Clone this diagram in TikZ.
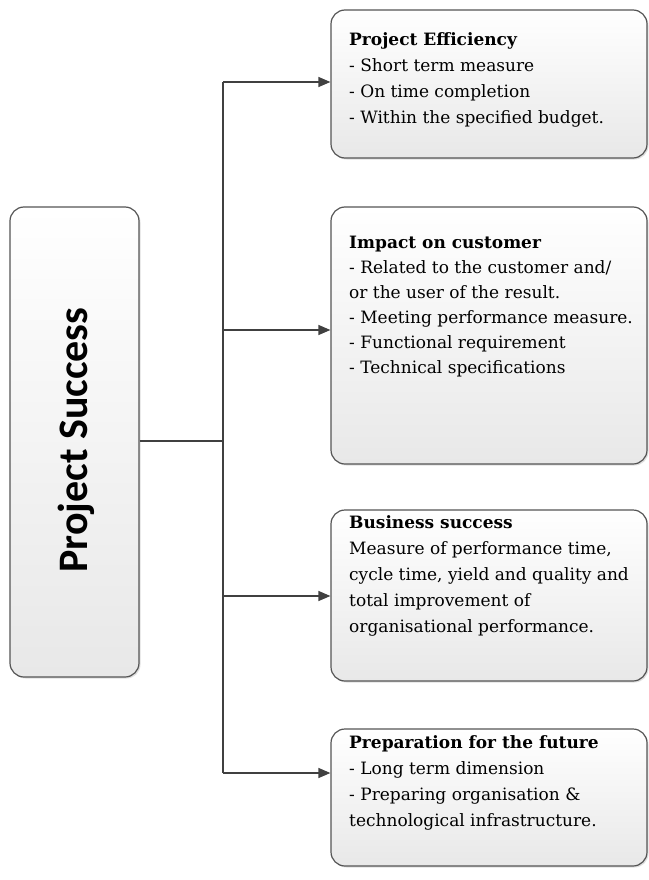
\documentclass[tikz,border=0pt]{standalone}
\usepackage{fontspec}
\setmainfont{DejaVu Serif}
\newfontfamily\psfont{Carlito}
\usetikzlibrary{arrows.meta,shadows}
\definecolor{edgec}{HTML}{555555}
\definecolor{linec}{HTML}{404040}
\definecolor{botc}{HTML}{E8E8E8}
\tikzset{
  boxstyle/.style={draw=edgec, line width=1.2pt, rounded corners=14pt,
    top color=white, bottom color=botc, minimum width=316pt,
    drop shadow={opacity=0.25, shadow xshift=1.5pt, shadow yshift=-1.5pt}},
  txtstyle/.style={anchor=north west, inner sep=0pt, align=left,
    font=\fontsize{17}{26}\selectfont, text=black},
  conn/.style={draw=linec, line width=1.3pt},
  arr/.style={conn, -{Triangle[length=12pt,width=10pt]}}
}
\begin{document}
\begin{tikzpicture}[x=1pt,y=-1pt]
\useasboundingbox (0,0) rectangle (648,880);
\node[boxstyle, minimum width=129pt, minimum height=470pt] (ps) at (74.5,442) {};
\node[rotate=90, inner sep=0pt, font=\psfont\bfseries\fontsize{42}{50}\selectfont] (pst) at (76,440) {Project Success};

\node[boxstyle, minimum height=148pt] (b1) at (489,84) {};
\node[boxstyle, minimum height=257pt] (b2) at (489,335.5) {};
\node[boxstyle, minimum height=171pt] (b3) at (489,595.5) {};
\node[boxstyle, minimum height=137pt] (b4) at (489,797.5) {};

\node[txtstyle] (t1) at (349,32) {\textbf{Project Efficiency}\\- Short term measure\\- On time completion\\- Within the specified budget.};
\node[txtstyle, font=\fontsize{17}{25}\selectfont] (t2) at (349,236) {\textbf{Impact on customer}\\- Related to the customer and/\\or the user of the result.\\- Meeting performance measure.\\- Functional requirement\\- Technical specifications};
\node[txtstyle] (t3) at (349,515) {\textbf{Business success}\\Measure of performance time,\\cycle time, yield and quality and\\total improvement of\\organisational performance.};
\node[txtstyle] (t4) at (349,735) {\textbf{Preparation for the future}\\- Long term dimension\\- Preparing organisation \&\\technological infrastructure.};

\coordinate (j) at (223,441);
\coordinate (c1) at (223,82);
\coordinate (c2) at (223,330);
\coordinate (c3) at (223,596);
\coordinate (c4) at (223,773);
\draw[conn] (ps.east |- j) -- (j);
\draw[conn] (c1) -- (c4);
\draw[arr] (c1) -- (c1 -| b1.west);
\draw[arr] (c2) -- (c2 -| b2.west);
\draw[arr] (c3) -- (c3 -| b3.west);
\draw[arr] (c4) -- (c4 -| b4.west);
\end{tikzpicture}
\end{document}
